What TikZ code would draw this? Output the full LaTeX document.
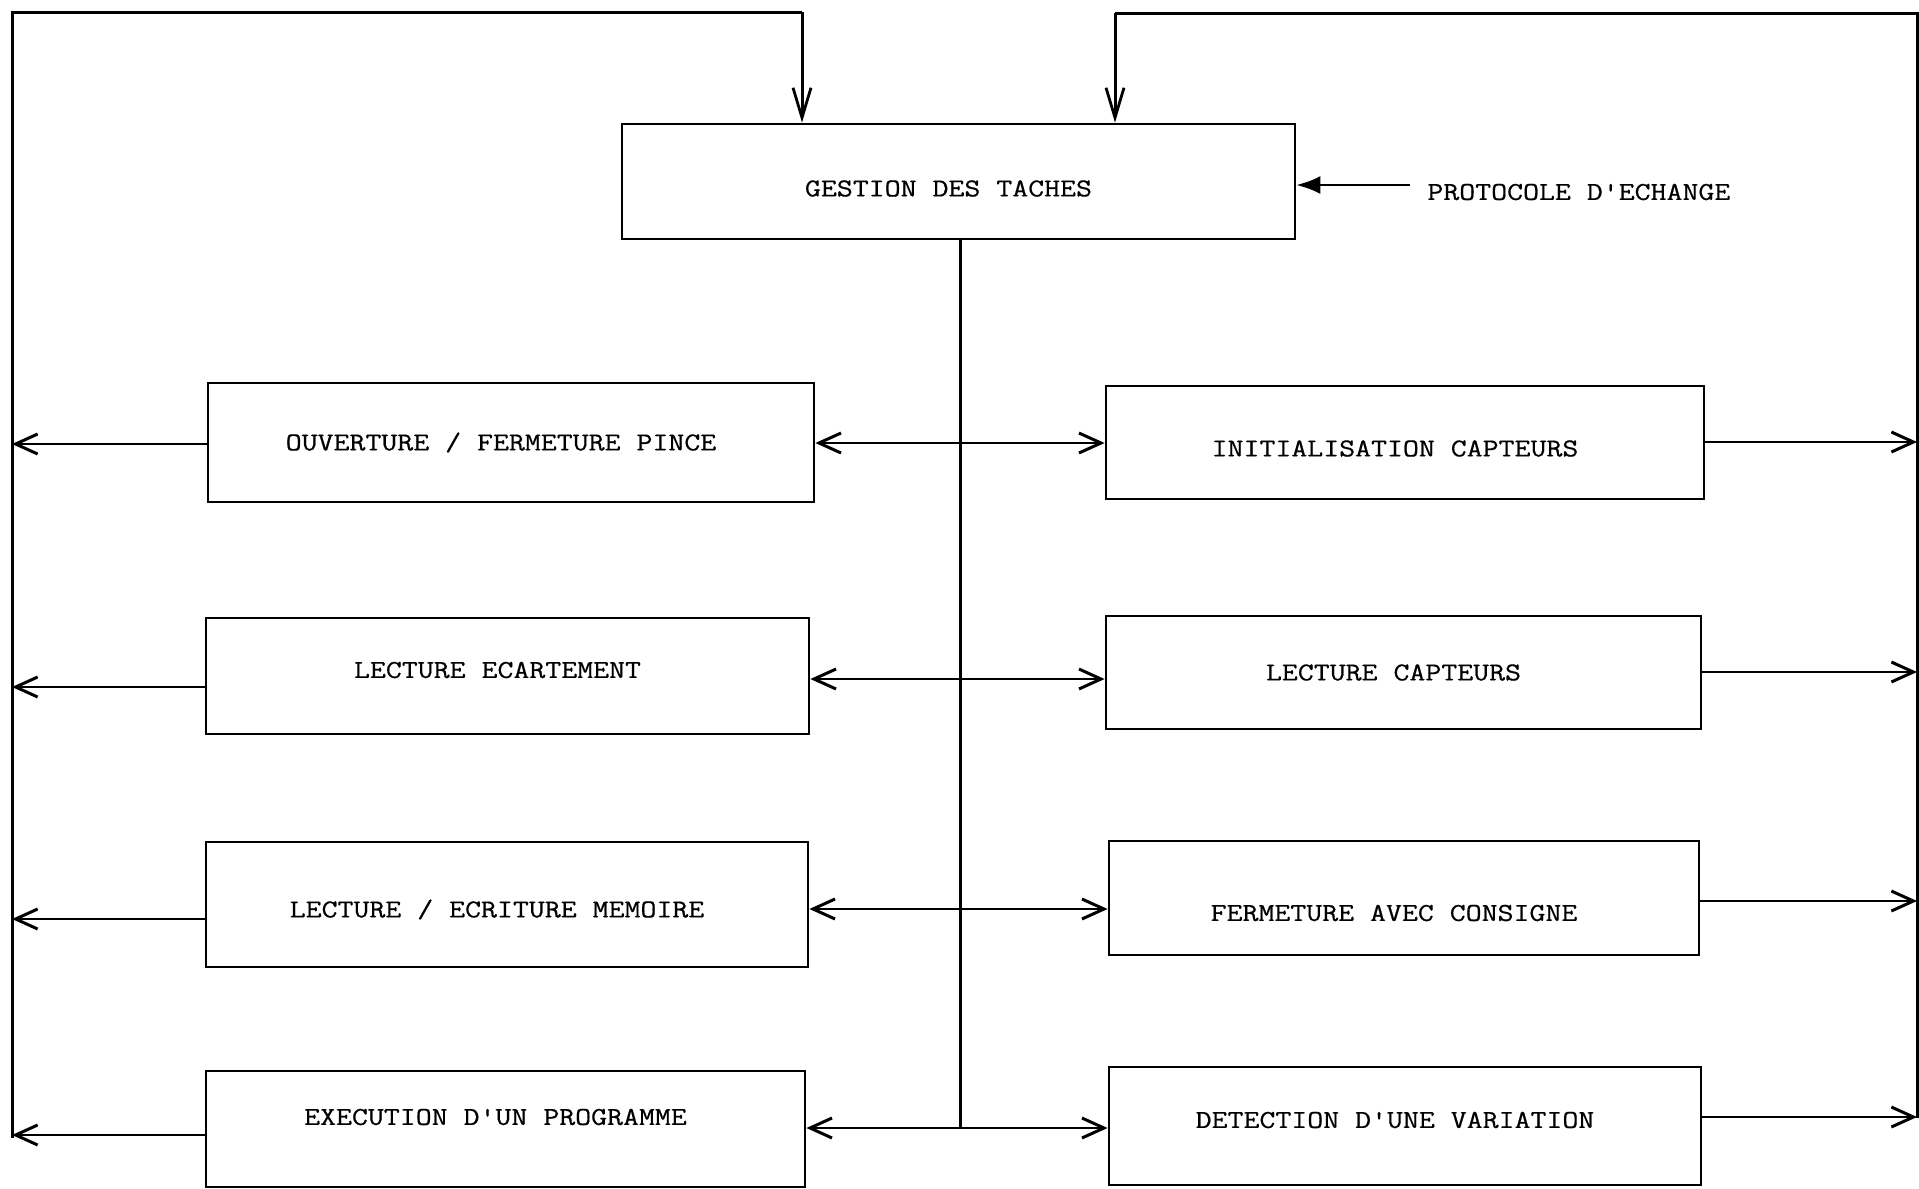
\documentclass[tikz,border=0pt]{standalone}
\usepackage{fontspec}
\setmonofont{Latin Modern Mono}[FakeStretch=1.2,FakeBold=0.6]
\usetikzlibrary{arrows.meta}
\newcommand{\tx}[2][0]{\raisebox{#1pt}[\height][\depth]{#2}\kern10pt}
\begin{document}
\begin{tikzpicture}[x=0.5pt,y=-0.5pt,
  box/.style={draw,line width=1.4pt,inner sep=0pt,font=\ttfamily\bfseries\fontsize{12.9}{15}\selectfont},
  txt/.style={inner sep=0pt,font=\ttfamily\bfseries\fontsize{12.9}{15}\selectfont},
  conn/.style={line width=1pt},
  bus/.style={line width=1.5pt},
  barb/.style={-{Straight Barb[length=11pt,width=10pt,line width=1.5pt]}},
  downbarb/.style={-{Straight Barb[length=15pt,width=9pt,line width=1.4pt]}},
  parrow/.style={line width=1.2pt,-{Latex[length=12pt,width=9pt]}}]
\useasboundingbox (0,0) rectangle (1919,1189);

% main box
\node[box,minimum width=336.5pt,minimum height=57.5pt] (T) at (958.5,181.5) {\tx[-3.5]{GESTION DES TACHES}};

% left boxes
\node[box,minimum width=303pt,minimum height=59.5pt] (L1) at (511,442.5) {\tx{OUVERTURE / FERMETURE PINCE}};
\node[box,minimum width=301.5pt,minimum height=58pt] (L2) at (507.5,676) {\tx[3]{LECTURE ECARTEMENT}};
\node[box,minimum width=301pt,minimum height=62.5pt] (L3) at (507,904.5) {\tx[-2.5]{LECTURE / ECRITURE MEMOIRE}};
\node[box,minimum width=299.5pt,minimum height=58pt] (L4) at (505.5,1129) {\tx[6]{EXECUTION D'UN PROGRAMME}};

% right boxes
\node[box,minimum width=299pt,minimum height=56.5pt] (R1) at (1405,442.5) {\tx[-3]{INITIALISATION CAPTEURS}};
\node[box,minimum width=297.5pt,minimum height=56.5pt] (R2) at (1403.5,672.5) {\tx{LECTURE CAPTEURS}};
\node[box,minimum width=295pt,minimum height=57pt] (R3) at (1404,898) {\tx[-7.5]{FERMETURE AVEC CONSIGNE}};
\node[box,minimum width=296pt,minimum height=59pt] (R4) at (1405,1126) {\tx[3]{DETECTION D'UNE VARIATION}};

% protocol
\node[txt,anchor=west] (P) at (1427,192) {PROTOCOLE D'ECHANGE};
\coordinate (pa) at (1410,185);
\draw[parrow] (pa) -- (pa -| T.east);

% top feedback loops
\coordinate (LT) at (12,12);
\coordinate (LB) at (12,1138);
\coordinate (TA) at (802,12);
\draw[bus] (LB) -- (LT) -- (TA);
\draw[bus,downbarb] (TA) -- (TA |- T.north);
\coordinate (RT) at (1917,13);
\coordinate (RB) at (1917,1118);
\coordinate (TB) at (1115,13);
\draw[bus] (RB) -- (RT) -- (TB);
\draw[bus,downbarb] (TB) -- (TB |- T.north);

% central distribution line
\coordinate (CB) at (960,1128);
\coordinate (CT) at (T.south -| CB);
\draw[bus] (CT) -- (CB);

\coordinate (C1) at (960,443);
\coordinate (C2) at (960,679);
\coordinate (C3) at (960,909);
\coordinate (C4) at (960,1128);
\foreach \k in {1,2,3,4}{
  \draw[conn,barb] (C\k) -- (C\k -| L\k.east);
  \draw[conn,barb] (C\k) -- (C\k -| R\k.west);
}

% left outputs
\coordinate (B1) at (12,444);
\coordinate (B2) at (12,687);
\coordinate (B3) at (12,919);
\coordinate (B4) at (12,1135);
% right outputs
\coordinate (D1) at (1917,442);
\coordinate (D2) at (1917,672);
\coordinate (D3) at (1917,901);
\coordinate (D4) at (1917,1117);
\foreach \k in {1,2,3,4}{
  \draw[conn,barb] (B\k -| L\k.west) -- (B\k);
  \draw[conn,barb] (D\k -| R\k.east) -- (D\k);
}
\end{tikzpicture}
\end{document}
